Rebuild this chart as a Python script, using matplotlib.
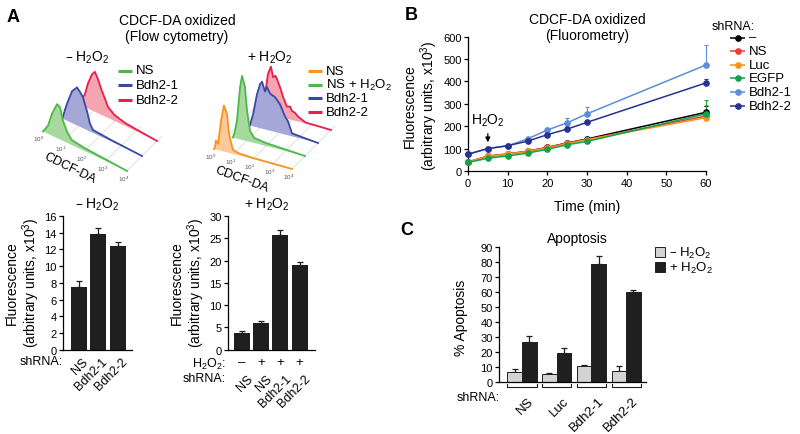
import numpy as np
import matplotlib
matplotlib.use("Agg")
import matplotlib.pyplot as plt
from matplotlib.transforms import Affine2D
from matplotlib.patches import Rectangle

plt.rcParams['font.family'] = ['Liberation Sans', 'DejaVu Sans']
plt.rcParams['mathtext.default'] = 'regular'
plt.rcParams['axes.linewidth'] = 0.9
plt.rcParams['xtick.major.width'] = 0.9
plt.rcParams['ytick.major.width'] = 0.9
plt.rcParams['xtick.major.size'] = 3.0
plt.rcParams['ytick.major.size'] = 3.0
plt.rcParams['xtick.major.pad'] = 2
plt.rcParams['ytick.major.pad'] = 1.5
plt.rcParams['xtick.labelsize'] = 8
plt.rcParams['ytick.labelsize'] = 8

H2O2 = 'H$_2$O$_2$'

# ================= DATA =================
# Panel A - flow cytometry histograms (x: log10 decades 10^0..10^4, y: relative counts)
histA_minus_names = ['NS', 'Bdh2-1', 'Bdh2-2']
hA_ns_u = [0.05, 0.28, 0.47, 0.71, 0.85, 0.99, 1.18, 1.4, 2.0, 3.0, 4.0]
hA_ns_c = [0, 8, 22, 34, 32, 20, 11, 5, 3, 1.5, 0]
hA_b1_u = [0.25, 0.47, 0.71, 0.94, 1.08, 1.22, 1.41, 1.55, 1.69, 2.5, 4.0]
hA_b1_c = [0, 17, 32, 38, 35, 31, 19, 8, 3, 1.5, 0]
hA_b2_u = [0.3, 0.45, 0.61, 0.75, 0.94, 1.08, 1.22, 1.41, 1.55, 1.69, 2.0, 2.5, 3.2, 4.0]
hA_b2_c = [0, 6, 13, 25, 36, 40, 34, 24, 18, 11, 6, 3, 1.5, 0]

histA_plus_names = ['NS', 'NS + ' + H2O2, 'Bdh2-1', 'Bdh2-2']
hP_ns_u = [0.0, 0.05, 0.1, 0.21, 0.36, 0.51, 0.67, 0.77, 0.97, 1.3, 2.0, 4.0]
hP_ns_c = [0, 2, 9, 6, 30, 46, 38, 19, 4, 2, 1, 0]
hP_nsh_u = [0.3, 0.4, 0.51, 0.67, 0.77, 0.92, 1.03, 1.18, 1.4, 2.0, 3.0, 4.0]
hP_nsh_c = [0, 6, 18, 52, 64, 54, 30, 11, 5, 3, 1.5, 0]
hP_b1_u = [0.5, 0.67, 0.87, 1.03, 1.13, 1.28, 1.38, 1.54, 1.79, 2.05, 2.31, 2.46, 2.67, 3.3, 4.0]
hP_b1_c = [0, 12, 33, 44, 47, 38, 43, 37, 35, 29, 18, 14, 3, 1.5, 0]
hP_b2_u = [0.4, 0.62, 0.77, 0.92, 1.03, 1.15, 1.23, 1.38, 1.54, 1.74, 1.9, 2.0, 2.15, 2.31, 2.5, 2.7, 4.0]
hP_b2_c = [0, 19, 40, 48, 38, 40, 37, 30, 21, 12, 13, 9, 8, 5, 3, 1, 0]
hist_decade_labels = ['10$^0$', '10$^1$', '10$^2$', '10$^3$', '10$^4$']

# Panel A - bar charts
barA_minus_shrna = ['NS', 'Bdh2-1', 'Bdh2-2']
barA_minus_vals = [7.5, 13.85, 12.45]
barA_minus_err = [0.7, 0.7, 0.45]
barA_plus_shrna = ['NS', 'NS', 'Bdh2-1', 'Bdh2-2']
barA_plus_h2o2 = ['–', '+', '+', '+']
barA_plus_vals = [3.7, 5.9, 25.7, 19.1]
barA_plus_err = [0.45, 0.55, 1.2, 0.5]

# Panel B - fluorometry time course
timesB = [0, 5, 10, 15, 20, 25, 30, 60]
seriesB_names = ['–', 'NS', 'Luc', 'EGFP', 'Bdh2-1', 'Bdh2-2']
fl_none = [40, 65, 75, 88, 105, 125, 143, 262]
fl_ns = [40, 67, 77, 88, 105, 125, 140, 245]
fl_luc = [40, 65, 75, 87, 103, 122, 140, 238]
fl_egfp = [38, 57, 67, 80, 97, 117, 132, 255]
fl_bdh21 = [75, 100, 112, 143, 183, 215, 255, 473]
fl_bdh22 = [75, 100, 113, 133, 162, 187, 217, 393]
er_none = [4, 5, 5, 5, 6, 8, 10, 30]
er_ns = [4, 5, 5, 5, 6, 8, 10, 20]
er_luc = [4, 5, 5, 6, 6, 8, 12, 55]
er_egfp = [4, 4, 4, 5, 5, 6, 8, 62]
er_bdh21 = [5, 5, 6, 8, 11, 23, 32, 88]
er_bdh22 = [5, 5, 5, 6, 8, 8, 8, 18]

# Panel C - apoptosis
groupsC = ['NS', 'Luc', 'Bdh2-1', 'Bdh2-2']
apop_minus = [6.7, 5.2, 10.7, 7.4]
apop_minus_err = [1.6, 0.8, 0.5, 2.9]
apop_plus = [26.8, 19.0, 78.8, 59.9]
apop_plus_err = [4.0, 3.4, 5.6, 1.3]

# ================= STYLE =================
W, H = 800, 435
fig = plt.figure(figsize=(8, 4.35), dpi=100)
PT = 0.72  # points per pixel

def add_ax(l, t, r, b):
    ax = fig.add_axes([l / W, 1 - b / H, (r - l) / W, (b - t) / H])
    ax.set_facecolor('none')
    return ax

def ftext(x, y, s, **kw):
    return fig.text(x / W, 1 - y / H, s, **kw)

# overlay in pixel coordinates (for histograms & legends)
ov = fig.add_axes([0, 0, 1, 1], facecolor='none')
ov.set_xlim(0, W)
ov.set_ylim(H, 0)
ov.axis('off')

BAR = '#1f1f1f'
GREEN_L, GREEN_F = '#4cb848', '#a7d99f'
BLUE_L, BLUE_F = '#3a4aa0', '#a5a7d6'
RED_L, RED_F = '#ec1c4b', '#f5a5b0'
ORNG_L, ORNG_F = '#f7941d', '#fcc99d'

# panel letters
for s, x, y in [('A', 13, 17), ('B', 411, 16), ('C', 407, 231)]:
    ftext(x, y, s, fontsize=13, fontweight='bold', ha='center', va='center')

# ---------- Panel A histograms ----------
ftext(177, 29, 'CDCF-DA oxidized\n(Flow cytometry)', fontsize=10, ha='center', va='center', linespacing=1.15)
ftext(87, 58, '– ' + H2O2, fontsize=10, ha='center', va='center')
ftext(270, 58, '+ ' + H2O2, fontsize=10, ha='center', va='center')

def draw_hist(curves, lcols, fcols, origin, X, D, lab_pos, lab_rot):
    n = len(curves)
    floor = Affine2D.from_values(X[0], X[1], D[0], D[1], origin[0], origin[1]) + ov.transData
    for d, lab in enumerate(hist_decade_labels):
        ov.plot([d, d], [0, n - 1 + 0.3], color='#dcdcdc', lw=0.6, transform=floor, zorder=1)
        ov.annotate(lab, xy=(d, 0), xycoords=floor, xytext=(-3 * PT, -7 * PT),
                    textcoords='offset points', fontsize=4.5, color='#555555',
                    ha='center', va='center')
    for k in range(n - 1, -1, -1):
        u, c = curves[k]
        tr = Affine2D.from_values(X[0], X[1], 0, -1,
                                  origin[0] + k * D[0], origin[1] + k * D[1]) + ov.transData
        ov.fill(list(u) + list(u)[::-1], list(c) + [0] * len(u), color=fcols[k], lw=0,
                transform=tr, zorder=2 + 2 * (n - k))
        ov.plot(u, c, color=lcols[k], lw=1.3, transform=tr, zorder=3 + 2 * (n - k),
                solid_joinstyle='round')
    ov.text(lab_pos[0], lab_pos[1], 'CDCF-DA', fontsize=9, rotation=lab_rot,
            ha='center', va='center', rotation_mode='anchor')

draw_hist([(hA_ns_u, hA_ns_c), (hA_b1_u, hA_b1_c), (hA_b2_u, hA_b2_c)],
          [GREEN_L, BLUE_L, RED_L], [GREEN_F, BLUE_F, RED_F],
          origin=(42, 132), X=(21.25, 10), D=(15, -15), lab_pos=(70, 169), lab_rot=-26)
draw_hist([(hP_ns_u, hP_ns_c), (hP_nsh_u, hP_nsh_c), (hP_b1_u, hP_b1_c), (hP_b2_u, hP_b2_c)],
          [ORNG_L, GREEN_L, BLUE_L, RED_L], [ORNG_F, GREEN_F, BLUE_F, RED_F],
          origin=(214, 150), X=(19.5, 5), D=(13, -13), lab_pos=(242, 180), lab_rot=-20)

def line_legend(x0, y0, dy, names, cols, lw=2.2, length=14, marker=None, fs=9.5):
    for i, (nm, col) in enumerate(zip(names, cols)):
        y = y0 + i * dy
        ov.plot([x0, x0 + length], [y, y], color=col, lw=lw, solid_capstyle='butt', zorder=20)
        if marker:
            ov.plot([x0 + length / 2], [y], color=col, marker=marker, ms=3.8, zorder=21)
        ov.text(x0 + length + 4, y, nm, fontsize=fs, va='center', ha='left', zorder=20)

line_legend(118, 71.5, 14.5, histA_minus_names, [GREEN_L, BLUE_L, RED_L])
line_legend(308, 72, 13.7, histA_plus_names, [ORNG_L, GREEN_L, BLUE_L, RED_L])

# ---------- Panel A bar charts ----------
def style_axes(ax):
    for sp in ['top', 'right']:
        ax.spines[sp].set_visible(False)

def below(ax, x, dy_px, s, dx_px=0, **kw):
    ax.annotate(s, xy=(x, 0), xycoords=('data', 'axes fraction'),
                xytext=(dx_px * PT, -dy_px * PT), textcoords='offset points',
                annotation_clip=False, **kw)

axL = add_ax(63, 217, 132, 350.7)
xl = np.arange(len(barA_minus_vals))
axL.bar(xl, barA_minus_vals, width=0.82, color=BAR, zorder=2)
axL.errorbar(xl, barA_minus_vals, yerr=[[0] * len(xl), barA_minus_err], fmt='none',
             ecolor=BAR, elinewidth=0.9, capsize=2.2, capthick=0.9, zorder=1)
axL.set_xlim(-0.82, 2.72)
axL.set_ylim(0, 16)
axL.set_yticks(np.arange(0, 17, 2))
axL.set_xticks([])
style_axes(axL)
for i, lab in enumerate(barA_minus_shrna):
    below(axL, i, 5.5, lab, dx_px=3, rotation=45, rotation_mode='anchor',
          ha='right', va='top', fontsize=9)
ftext(63, 362, 'shRNA:', fontsize=9, ha='right', va='center')
ftext(97, 205, '– ' + H2O2, fontsize=10, ha='center', va='center')
ftext(23, 283, 'Fluorescence\n(arbitrary units, x10$^3$)', fontsize=10, rotation=90,
      ha='center', va='center', multialignment='center', linespacing=1.1)

axR = add_ax(228, 217, 315, 350.7)
xr = np.arange(len(barA_plus_vals))
axR.bar(xr, barA_plus_vals, width=0.83, color=BAR, zorder=2)
axR.errorbar(xr, barA_plus_vals, yerr=[[0] * len(xr), barA_plus_err], fmt='none',
             ecolor=BAR, elinewidth=0.9, capsize=2.2, capthick=0.9, zorder=1)
axR.set_xlim(-0.73, 3.8)
axR.set_ylim(0, 30)
axR.set_yticks(np.arange(0, 31, 5))
axR.set_xticks([])
style_axes(axR)
for i, (sgn, lab) in enumerate(zip(barA_plus_h2o2, barA_plus_shrna)):
    below(axR, i, 12.5, sgn, ha='center', va='center', fontsize=9.5)
    below(axR, i, 22.5, lab, dx_px=5, rotation=45, rotation_mode='anchor',
          ha='right', va='top', fontsize=9)
ftext(226, 364.5, H2O2 + ':', fontsize=9, ha='right', va='center')
ftext(226, 379, 'shRNA:', fontsize=9, ha='right', va='center')
ftext(267, 205, '+ ' + H2O2, fontsize=10, ha='center', va='center')
ftext(188, 283, 'Fluorescence\n(arbitrary units, x10$^3$)', fontsize=10, rotation=90,
      ha='center', va='center', multialignment='center', linespacing=1.1)

# ---------- Panel B ----------
axB = add_ax(468, 37.5, 706, 172)
colsB = ['#000000', '#ef3b36', '#f7931e', '#13a14b', '#5b8dd9', '#27338f']
valsB = [fl_none, fl_ns, fl_luc, fl_egfp, fl_bdh21, fl_bdh22]
errsB = [er_none, er_ns, er_luc, er_egfp, er_bdh21, er_bdh22]
for v, e, c in zip(valsB, errsB, colsB):
    axB.errorbar(timesB, v, yerr=[[0] * len(e), e], color=c, marker='o', ms=3.8, lw=1.1,
                 elinewidth=0.8, capsize=1.6, capthick=0.8, clip_on=False, zorder=3)
axB.set_xlim(0, 60)
axB.set_ylim(0, 600)
axB.set_xticks(np.arange(0, 61, 10))
axB.set_yticks(np.arange(0, 601, 100))
style_axes(axB)
axB.annotate(H2O2, xy=(5, 128), xytext=(5, 228), ha='center', va='center', fontsize=10,
             arrowprops=dict(arrowstyle='-|>', color='black', lw=0.9, mutation_scale=7,
                             shrinkA=2, shrinkB=0))
ftext(587, 28, 'CDCF-DA oxidized\n(Fluorometry)', fontsize=10, ha='center', va='center',
      linespacing=1.15)
ftext(587, 207, 'Time (min)', fontsize=10, ha='center', va='center')
ftext(421, 106, 'Fluorescence\n(arbitrary units, x10$^3$)', fontsize=10, rotation=90,
      ha='center', va='center', multialignment='center', linespacing=1.1)
ftext(712, 27, 'shRNA:', fontsize=9, ha='left', va='center')
line_legend(730, 38.5, 13.6, seriesB_names, colsB, lw=1.1, length=15, marker='o', fs=9.5)

# ---------- Panel C ----------
axC = add_ax(499, 248.3, 646, 382.7)
xc = np.arange(len(groupsC))
bw = 0.42
axC.bar(xc - bw / 2, apop_minus, width=bw, color='#d3d3d3', edgecolor=BAR, lw=0.7, zorder=2)
axC.bar(xc + bw / 2, apop_plus, width=bw, color=BAR, edgecolor=BAR, lw=0.7, zorder=2)
axC.errorbar(xc - bw / 2, apop_minus, yerr=[[0] * 4, apop_minus_err], fmt='none',
             ecolor=BAR, elinewidth=0.9, capsize=2.2, capthick=0.9, zorder=1)
axC.errorbar(xc + bw / 2, apop_plus, yerr=[[0] * 4, apop_plus_err], fmt='none',
             ecolor=BAR, elinewidth=0.9, capsize=2.2, capthick=0.9, zorder=1)
axC.set_xlim(-0.66, 3.57)
axC.set_ylim(0, 90)
axC.set_yticks(np.arange(0, 91, 10))
axC.set_xticks([])
style_axes(axC)
btr = axC.get_xaxis_transform()
for i, g in enumerate(groupsC):
    axC.plot([i - 0.42, i - 0.42, i + 0.42, i + 0.42], [-0.018, -0.038, -0.038, -0.018],
             color=BAR, lw=0.8, transform=btr, clip_on=False)
    below(axC, i, 13, g, dx_px=6, rotation=45, rotation_mode='anchor',
          ha='right', va='top', fontsize=9.5)
ftext(500, 398, 'shRNA:', fontsize=9, ha='right', va='center')
ftext(577, 239, 'Apoptosis', fontsize=10, ha='center', va='center')
ftext(461, 318, '% Apoptosis', fontsize=10, rotation=90, ha='center', va='center')
for i, (lab, col) in enumerate([('– ' + H2O2, '#d3d3d3'), ('+ ' + H2O2, BAR)]):
    y = 253 + i * 15
    ov.add_patch(Rectangle((655, y - 5), 10, 10, facecolor=col, edgecolor=BAR, lw=0.7))
    ov.text(669, y, lab, fontsize=9.5, ha='left', va='center')

fig.savefig('out.png', dpi=100)
